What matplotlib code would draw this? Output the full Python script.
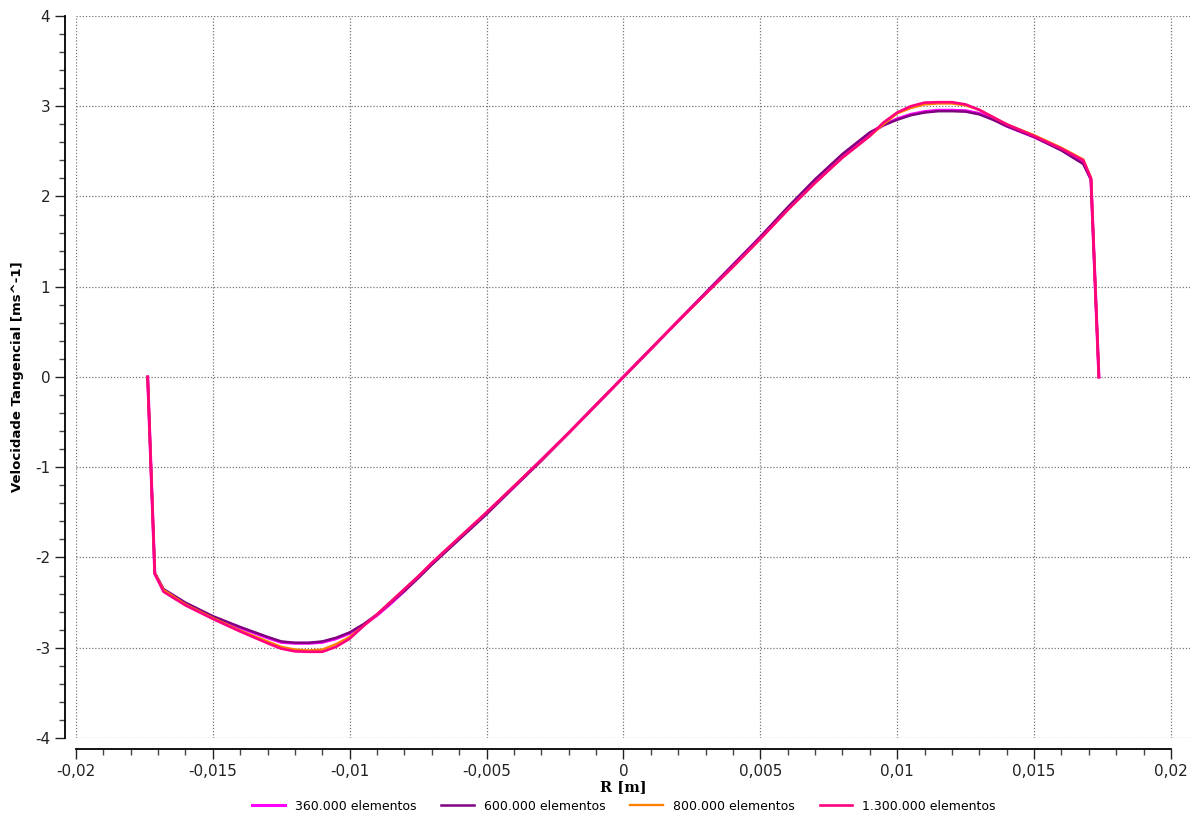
import numpy as np
import matplotlib
matplotlib.use("Agg")
import matplotlib.pyplot as plt
from matplotlib.ticker import MultipleLocator, FuncFormatter

# radial positions [m]
r_pts = [-0.01738, -0.01712, -0.0168, -0.016, -0.015, -0.014, -0.013, -0.0125, -0.012, -0.0115,
         -0.011, -0.0105, -0.010, -0.0095, -0.009, -0.0085, -0.008, -0.0075, -0.007, -0.006,
         -0.005, -0.004, -0.003, -0.002, -0.001, 0.0,
         0.001, 0.002, 0.003, 0.004, 0.005, 0.006, 0.007, 0.008,
         0.0085, 0.009, 0.0095, 0.010, 0.0105, 0.011, 0.0115, 0.012, 0.0125, 0.013, 0.0135,
         0.014, 0.015, 0.016, 0.0168, 0.01708, 0.01737]

v_360k = [0, -2.18, -2.36, -2.51, -2.66, -2.78, -2.89, -2.94, -2.95, -2.95,
          -2.94, -2.90, -2.84, -2.75, -2.64, -2.51, -2.37, -2.22, -2.07, -1.79,
          -1.51, -1.22, -0.92, -0.62, -0.31, 0,
          0.31, 0.62, 0.93, 1.24, 1.55, 1.87, 2.18, 2.46,
          2.58, 2.70, 2.79, 2.86, 2.91, 2.94, 2.955, 2.955, 2.95, 2.92, 2.86,
          2.78, 2.66, 2.52, 2.37, 2.19, 0]
v_600k = [0, -2.17, -2.35, -2.50, -2.65, -2.77, -2.88, -2.93, -2.945, -2.945,
          -2.93, -2.89, -2.83, -2.74, -2.63, -2.50, -2.37, -2.23, -2.08, -1.80,
          -1.52, -1.22, -0.93, -0.62, -0.31, 0,
          0.31, 0.62, 0.93, 1.24, 1.55, 1.88, 2.19, 2.47,
          2.59, 2.71, 2.79, 2.85, 2.90, 2.93, 2.945, 2.945, 2.94, 2.91, 2.85,
          2.78, 2.66, 2.51, 2.36, 2.19, 0]
v_800k = [0, -2.17, -2.36, -2.52, -2.67, -2.81, -2.93, -2.99, -3.02, -3.03,
          -3.02, -2.96, -2.88, -2.76, -2.63, -2.49, -2.35, -2.21, -2.06, -1.78,
          -1.50, -1.21, -0.92, -0.62, -0.31, 0,
          0.31, 0.62, 0.92, 1.22, 1.53, 1.85, 2.15, 2.43,
          2.55, 2.67, 2.80, 2.92, 2.98, 3.02, 3.03, 3.03, 3.01, 2.96, 2.88,
          2.80, 2.68, 2.54, 2.41, 2.21, 0]
v_1300k = [0, -2.18, -2.38, -2.53, -2.68, -2.82, -2.95, -3.01, -3.04, -3.045,
           -3.045, -2.99, -2.90, -2.76, -2.63, -2.49, -2.35, -2.21, -2.06, -1.78,
           -1.50, -1.21, -0.92, -0.62, -0.31, 0,
           0.31, 0.62, 0.92, 1.22, 1.53, 1.85, 2.15, 2.43,
           2.55, 2.67, 2.82, 2.93, 3.00, 3.04, 3.045, 3.045, 3.02, 2.96, 2.88,
           2.80, 2.67, 2.53, 2.40, 2.20, 0]

labels = ["360.000 elementos", "600.000 elementos", "800.000 elementos", "1.300.000 elementos"]
colors = ["#ff00ff", "#800080", "#ff8000", "#ff0080"]
widths = [2.2, 1.8, 1.7, 1.9]
series = [v_360k, v_600k, v_800k, v_1300k]

fig = plt.figure(figsize=(12, 8.19), dpi=100)
ax = fig.add_axes([0.0633, 0.0989, 0.9284, 0.8816])

for vals, lab, col, lw in zip(series, labels, colors, widths):
    ax.plot(r_pts, vals, color=col, lw=lw, label=lab)

ax.set_xlim(-0.02, 0.0207)
ax.set_ylim(-4, 4)

ax.spines["top"].set_visible(False)
ax.spines["right"].set_visible(False)
ax.spines["left"].set_position(("outward", 8))
ax.spines["bottom"].set_position(("outward", 8))
ax.spines["left"].set_bounds(-4, 4)
ax.spines["bottom"].set_bounds(-0.02, 0.02)
ax.spines["left"].set_linewidth(1.3)
ax.spines["bottom"].set_linewidth(1.3)

ax.xaxis.set_major_locator(MultipleLocator(0.005))
ax.xaxis.set_minor_locator(MultipleLocator(0.001))
ax.yaxis.set_major_locator(MultipleLocator(1))
ax.yaxis.set_minor_locator(MultipleLocator(0.2))


def comma_fmt(v, pos):
    v = round(v, 6)
    if v == 0:
        return "0"
    return f"{v:g}".replace(".", ",")


ax.xaxis.set_major_formatter(FuncFormatter(comma_fmt))
ax.yaxis.set_major_formatter(FuncFormatter(comma_fmt))
ax.tick_params(which="major", length=7, width=1, labelsize=11, colors="#222222")
ax.tick_params(which="minor", length=4.5, width=1, colors="#444444")

ax.grid(True, which="major", linestyle=(0, (1, 1.5)), color="#777777", lw=0.9)

ax.set_xlabel("R [m]", fontsize=10.5, fontweight="bold", family="DejaVu Serif")
ax.xaxis.set_label_coords(0.491, -0.058)
ax.set_ylabel("Velocidade Tangencial [ms^-1]", fontsize=9.5, fontweight="bold")
ax.yaxis.set_label_coords(-0.047, 0.5)

fig.legend(loc="center", bbox_to_anchor=(0.52, 1 - 806 / 819), ncol=4, frameon=False,
           fontsize=9, handlelength=2.6, columnspacing=2.0, handletextpad=0.8)

fig.savefig("out.png", dpi=100)
